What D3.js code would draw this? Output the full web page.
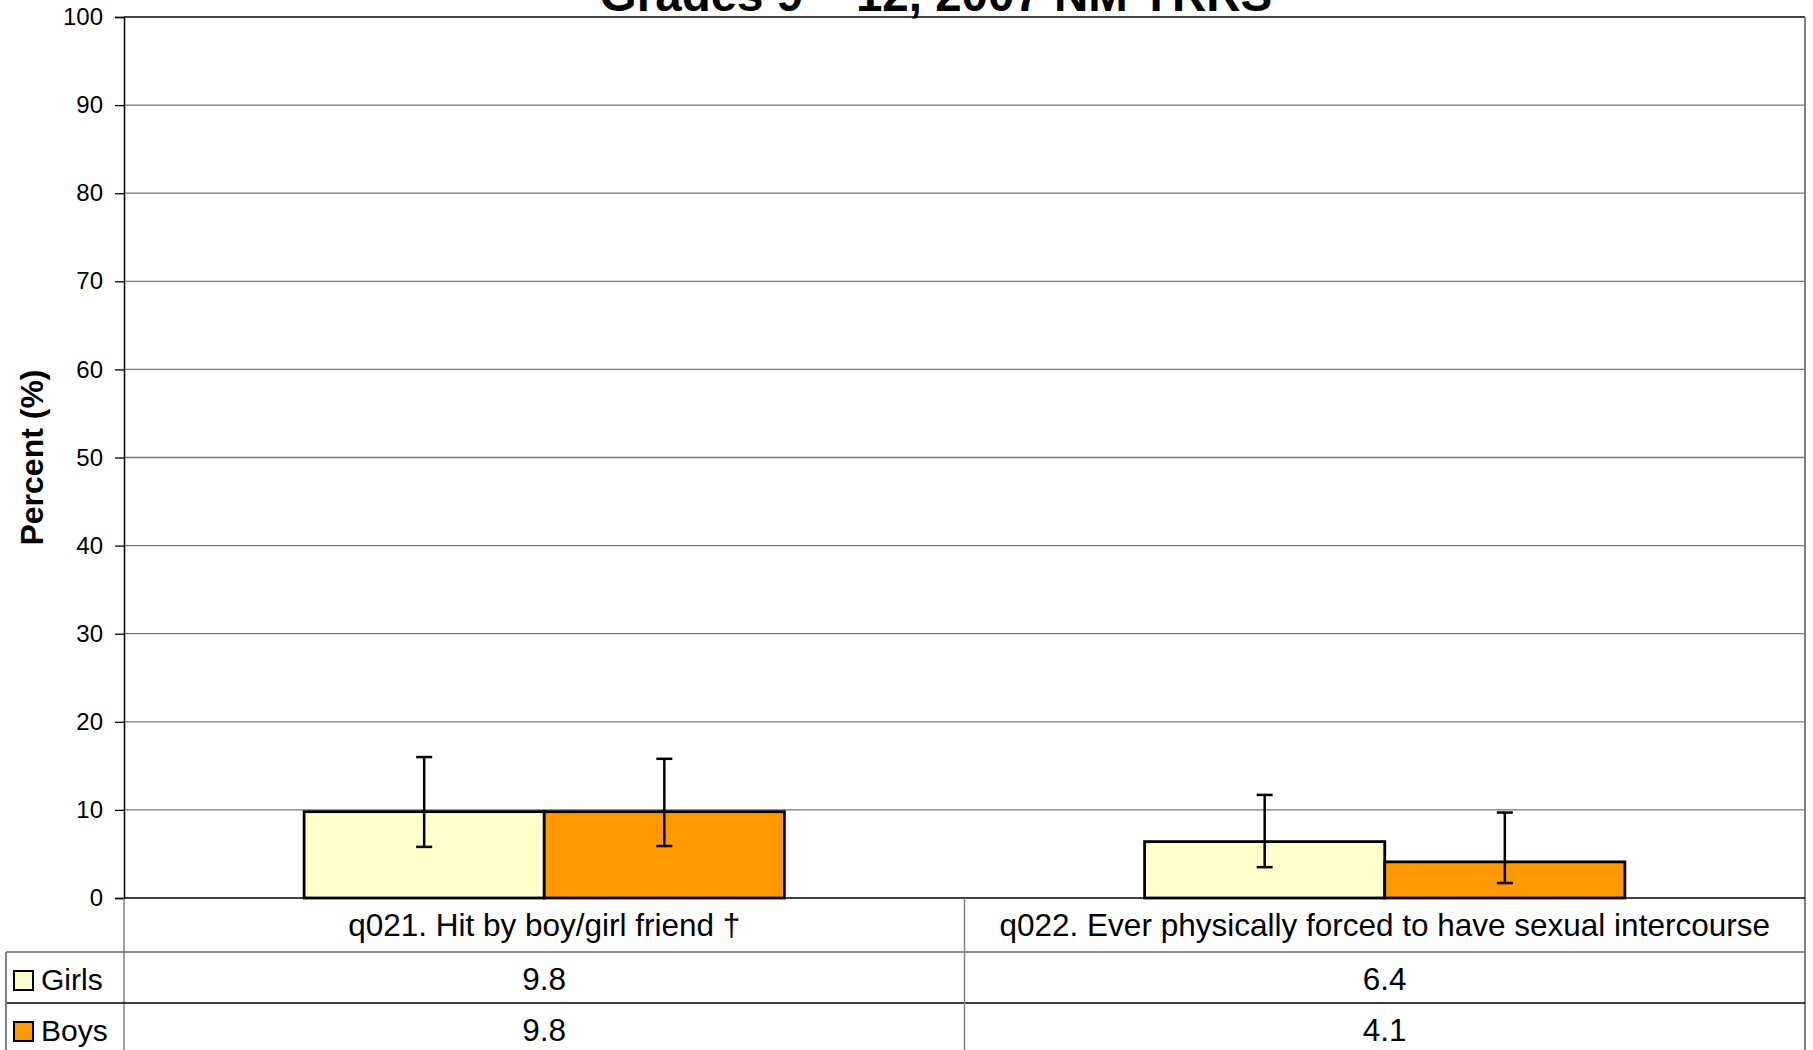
<!DOCTYPE html>
<html>
<head>
<meta charset="utf-8">
<script src="https://cdn.jsdelivr.net/npm/d3@7"></script>
<style>
body { margin: 0; background: #fff; }
text { font-family: "Liberation Sans", Arial, sans-serif; fill: #000; }
</style>
</head>
<body>
<div class="chart"></div>
<script>
// values
var categories = ["q021. Hit by boy/girl friend \u2020", "q022. Ever physically forced to have sexual intercourse"];
var seriesNames = ["Girls", "Boys"];
var seriesColors = ["#FFFFCC", "#FF9900"];
var girls = [9.8, 6.4];
var boys = [9.8, 4.1];
var girlsLow = [5.8, 3.5];
var girlsHigh = [16.0, 11.7];
var boysLow = [5.9, 1.7];
var boysHigh = [15.8, 9.7];
var yTicks = [0, 10, 20, 30, 40, 50, 60, 70, 80, 90, 100];
var titleText = "Grades 9 \u2013 12, 2007 NM YRRS";

var width = 1813;
var height = 1050;
var plotLeft = 124, plotRight = 1805, plotTop = 17, plotBottom = 898;
var rowH = 51;
var tableLeft = 6;

var x0 = d3.scaleBand().domain(categories).range([plotLeft, plotRight]).padding(0);
var x1 = d3.scaleBand().domain(seriesNames).range([0, x0.bandwidth()]).paddingInner(0).paddingOuter(0.75);
var y = d3.scaleLinear().domain([0, 100]).range([plotBottom, plotTop]);

function build_svg(c) {
    return c.append("svg").attr("width", width).attr("height", height);
}

function build_grid(s) {
    s.append("g").selectAll("line")
        .data(yTicks.filter(function(d){ return d > 0 && d < 100; }))
        .enter().append("line")
        .attr("x1", plotLeft).attr("x2", plotRight)
        .attr("y1", function(d){ return y(d); }).attr("y2", function(d){ return y(d); })
        .attr("stroke", "#777").attr("stroke-width", 1.3);
    // top border and right border of plot area
    s.append("line").attr("x1", plotLeft).attr("x2", plotRight)
        .attr("y1", y(100)).attr("y2", y(100)).attr("stroke", "#000").attr("stroke-width", 1.5);
    s.append("line").attr("x1", plotRight).attr("x2", plotRight)
        .attr("y1", y(100)).attr("y2", height).attr("stroke", "#808080").attr("stroke-width", 2);
}

function build_axis(s) {
    var yAxis = d3.axisLeft(y).tickValues(yTicks).tickSize(9).tickPadding(12);
    var g = s.append("g").attr("transform", "translate(" + plotLeft + ",0)").call(yAxis);
    g.select(".domain").attr("stroke", "#000").attr("stroke-width", 1.5);
    g.selectAll(".tick line").attr("stroke", "#000").attr("stroke-width", 1.3);
    g.selectAll(".tick text").style("font-size", "24px").attr("fill", "#000")
        .style("font-family", "'Liberation Sans', Arial, sans-serif");
    // extend axis line down through the table
    s.append("line").attr("x1", plotLeft).attr("x2", plotLeft)
        .attr("y1", plotBottom).attr("y2", height).attr("stroke", "#808080").attr("stroke-width", 1.5);

    s.append("text")
        .attr("transform", "translate(43," + ((plotTop + plotBottom) / 2) + ") rotate(-90)")
        .attr("text-anchor", "middle")
        .style("font-size", "32px").style("font-weight", "bold")
        .text("Percent (%)");

    s.append("text")
        .attr("x", 936).attr("y", 11)
        .attr("text-anchor", "middle")
        .style("font-size", "47.5px").style("font-weight", "bold")
        .text(titleText);
}

function build_bars(s) {
    var series = [
        {name: "Girls", values: girls, low: girlsLow, high: girlsHigh, color: seriesColors[0]},
        {name: "Boys", values: boys, low: boysLow, high: boysHigh, color: seriesColors[1]}
    ];
    series.forEach(function(ser) {
        var pts = categories.map(function(c, i) {
            return {cat: c, v: ser.values[i], lo: ser.low[i], hi: ser.high[i]};
        });
        var g = s.append("g");
        g.selectAll("rect").data(pts).enter().append("rect")
            .attr("x", function(d){ return x0(d.cat) + x1(ser.name); })
            .attr("y", function(d){ return y(d.v); })
            .attr("width", x1.bandwidth())
            .attr("height", function(d){ return y(0) - y(d.v); })
            .attr("fill", ser.color).attr("stroke", "#000").attr("stroke-width", 2.8);
        var cx = function(d){ return x0(d.cat) + x1(ser.name) + x1.bandwidth() / 2; };
        g.selectAll("line.err").data(pts).enter().append("line").attr("class", "err")
            .attr("x1", cx).attr("x2", cx)
            .attr("y1", function(d){ return y(d.lo); }).attr("y2", function(d){ return y(d.hi); })
            .attr("stroke", "#000").attr("stroke-width", 2.5);
        ["lo", "hi"].forEach(function(k) {
            g.selectAll("line.cap" + k).data(pts).enter().append("line").attr("class", "cap" + k)
                .attr("x1", function(d){ return cx(d) - 8; }).attr("x2", function(d){ return cx(d) + 8; })
                .attr("y1", function(d){ return y(d[k]); }).attr("y2", function(d){ return y(d[k]); })
                .attr("stroke", "#000").attr("stroke-width", 2.5);
        });
    });
    // zero line
    s.append("line").attr("x1", plotLeft).attr("x2", plotRight)
        .attr("y1", y(0)).attr("y2", y(0)).attr("stroke", "#000").attr("stroke-width", 1.5);
}

function build_table(s) {
    var r1 = plotBottom + 54;
    var r2 = r1 + rowH;
    // horizontal rules
    s.append("line").attr("x1", tableLeft).attr("x2", plotRight).attr("y1", r1).attr("y2", r1)
        .attr("stroke", "#666").attr("stroke-width", 1.5);
    s.append("line").attr("x1", tableLeft).attr("x2", plotRight).attr("y1", r2).attr("y2", r2)
        .attr("stroke", "#000").attr("stroke-width", 1.5);
    // verticals
    s.append("line").attr("x1", tableLeft).attr("x2", tableLeft).attr("y1", r1).attr("y2", height)
        .attr("stroke", "#808080").attr("stroke-width", 2);
    s.append("g").selectAll("line").data(categories.slice(1)).enter().append("line")
        .attr("x1", function(d){ return x0(d); }).attr("x2", function(d){ return x0(d); })
        .attr("y1", plotBottom).attr("y2", height)
        .attr("stroke", "#808080").attr("stroke-width", 1.5);

    // category labels
    s.append("g").selectAll("text").data(categories).enter().append("text")
        .attr("x", function(d){ return x0(d) + x0.bandwidth() / 2; })
        .attr("y", plotBottom + 38)
        .attr("text-anchor", "middle").style("font-size", "31.5px")
        .text(function(d){ return d; });

    var rows = [girls, boys];
    rows.forEach(function(vals, ri) {
        var base = r1 + ri * rowH + 38;
        s.append("rect").attr("x", 14).attr("y", base - 19).attr("width", 19).attr("height", 19)
            .attr("fill", seriesColors[ri]).attr("stroke", "#000").attr("stroke-width", 2);
        s.append("text").attr("x", 41).attr("y", base).style("font-size", "30px").text(seriesNames[ri]);
        s.append("g").selectAll("text").data(vals).enter().append("text")
            .attr("x", function(d, i){ return x0(categories[i]) + x0.bandwidth() / 2; })
            .attr("y", base)
            .attr("text-anchor", "middle").style("font-size", "31.5px")
            .text(function(d){ return d.toFixed(1); });
    });
}

function main() {
    var container = d3.select(".chart");
    var svg = build_svg(container);
    build_grid(svg);
    build_axis(svg);
    build_bars(svg);
    build_table(svg);
}

main();
</script>
</body>
</html>
